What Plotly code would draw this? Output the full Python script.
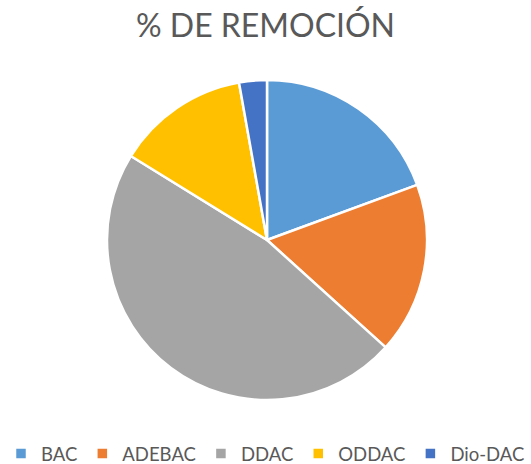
import plotly.graph_objects as go

labels = ["BAC", "ADEBAC", "DDAC", "ODDAC", "Dio-DAC"]
values = [19.4, 17.3, 47.1, 13.4, 2.8]
colors = ["#5B9BD5", "#ED7D31", "#A5A5A5", "#FFC000", "#4472C4"]

W, H = 531, 464
cx, cy, r = 267, 240, 160

fig = go.Figure(go.Pie(
    labels=labels, values=values, sort=False, direction="clockwise", rotation=0,
    marker=dict(colors=colors, line=dict(color="white", width=2.5)),
    textinfo="none", hoverinfo="label+percent",
    domain=dict(x=[(cx - r) / W, (cx + r) / W], y=[1 - (cy + r) / H, 1 - (cy - r) / H]),
))
fig.update_layout(
    width=W, height=H,
    margin=dict(l=0, r=0, t=0, b=0, autoexpand=False),
    paper_bgcolor="white",
    font=dict(family="Lato, Open Sans, sans-serif", color="#595959"),
    title=dict(text="% DE REMOCIÓN", x=0.5, xanchor="center", y=1 - 26 / H, yanchor="middle",
               font=dict(size=32, color="#595959", family="Lato, Open Sans, sans-serif")),
    legend=dict(orientation="h", x=0.5, xanchor="center", y=1 - 454 / H, yanchor="middle",
                font=dict(size=18.5, color="#595959"), traceorder="normal"),
)
fig.write_html("out.html", config={"displayModeBar": False},
               post_script="document.body.style.margin='0';document.body.style.overflow='hidden';")
